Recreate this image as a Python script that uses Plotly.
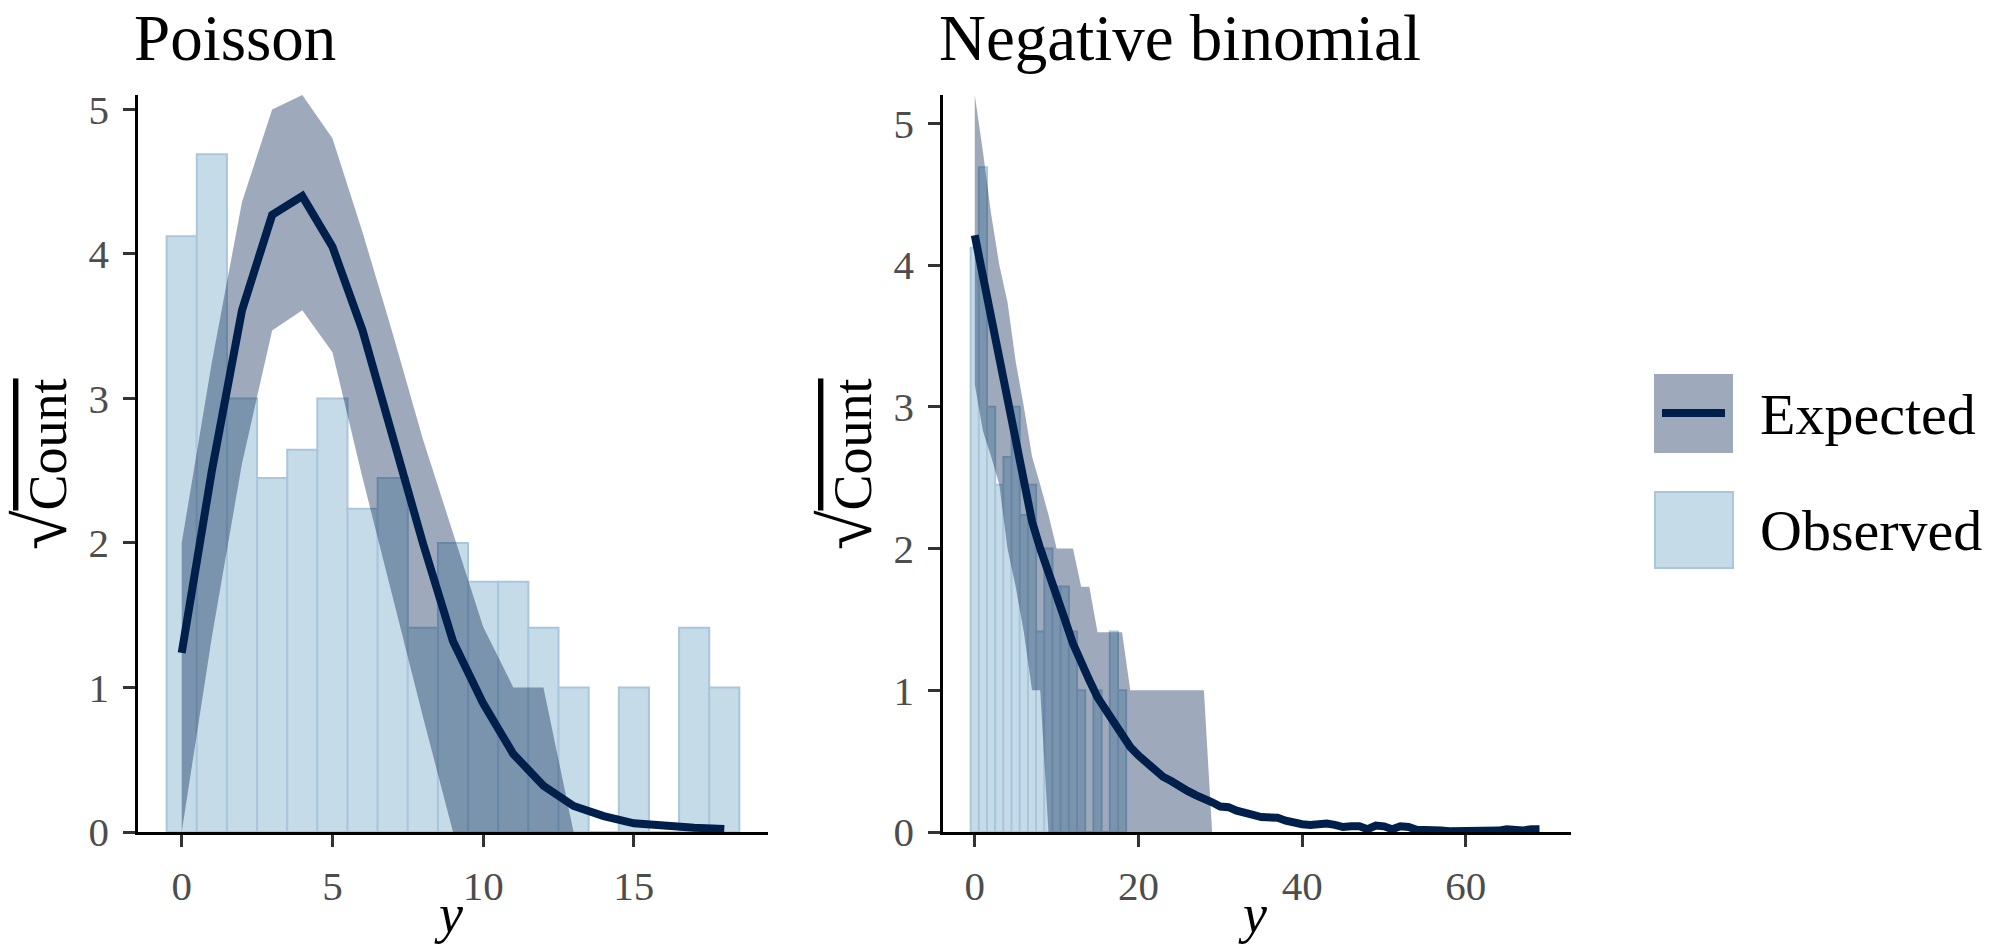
import numpy as np
import plotly.graph_objects as go

# ---------------- data ----------------
y_vals = list(range(19))
obs_counts = [17, 22, 9, 6, 7, 9, 5, 6, 2, 4, 3, 3, 2, 1, 0, 1, 0, 2, 1]

# Poisson model: sqrt expected counts and interval
pois_x = list(range(19))
pois_exp = [1.24, 2.50, 3.61, 4.27, 4.40, 4.05, 3.47, 2.71, 2.00, 1.32,
            0.89, 0.54, 0.32, 0.18, 0.11, 0.06, 0.04, 0.03, 0.02]
pois_lo = [0.00, 1.35, 2.55, 3.47, 3.61, 3.32, 2.45, 1.62, 0.80, 0.00,
           0.00, 0.00, 0.00, 0.00, 0.00, 0.00, 0.00, 0.00, 0.00]
pois_hi = [2.00, 3.25, 4.36, 5.00, 5.10, 4.80, 4.15, 3.45, 2.72, 2.07,
           1.42, 1.00, 1.00, 0.00, 0.00, 0.00, 0.00, 0.00, 0.00]

# Negative binomial model
nb_x = list(range(70))
nb_exp = [4.21, 3.92, 3.63, 3.34, 3.05, 2.76, 2.47, 2.19, 2.00, 1.82,
          1.65, 1.50, 1.33, 1.19, 1.07, 0.95, 0.86, 0.77, 0.68, 0.60,
          0.54, 0.49, 0.43, 0.39, 0.36, 0.32, 0.29, 0.26, 0.24, 0.21,
          0.18, 0.175, 0.15, 0.13, 0.12, 0.105, 0.105, 0.10, 0.08, 0.065,
          0.055, 0.05, 0.055, 0.06, 0.05, 0.035, 0.04, 0.04, 0.02, 0.045,
          0.04, 0.02, 0.04, 0.035, 0.015, 0.015, 0.02, 0.01, 0.005, 0.005,
          0.005, 0.005, 0.005, 0.005, 0.01, 0.02, 0.015, 0.01, 0.02, 0.02]
nb_lo = [3.16, 2.83, 2.65, 2.45, 2.00, 1.73, 1.41, 1.00, 1.00, 0.00,
         0, 0, 0, 0, 0, 0, 0, 0, 0, 0,
         0, 0, 0, 0, 0, 0, 0, 0, 0, 0,
         0, 0, 0, 0, 0, 0, 0, 0, 0, 0,
         0, 0, 0, 0, 0, 0, 0, 0, 0, 0,
         0, 0, 0, 0, 0, 0, 0, 0, 0, 0,
         0, 0, 0, 0, 0, 0, 0, 0, 0, 0]
nb_hi = [5.20, 4.80, 4.36, 4.00, 3.74, 3.32, 3.00, 2.65, 2.45, 2.24,
         2.00, 2.00, 2.00, 1.73, 1.73, 1.41, 1.41, 1.41, 1.41, 1.00,
         1.00, 1.00, 1.00, 1.00, 1.00, 1.00, 1.00, 1.00, 1.00, 0.00,
         0, 0, 0, 0, 0, 0, 0, 0, 0, 0,
         0, 0, 0, 0, 0, 0, 0, 0, 0, 0,
         0, 0, 0, 0, 0, 0, 0, 0, 0, 0,
         0, 0, 0, 0, 0, 0, 0, 0, 0, 0]

panel_titles = ["Poisson", "Negative binomial"]
legend_labels = ["Expected", "Observed"]
y_ticks = [0, 1, 2, 3, 4, 5]
x_ticks_left = [0, 5, 10, 15]
x_ticks_right = [0, 20, 40, 60]

# ---------------- style ----------------
W, H = 2009, 946
FONT = "Liberation Serif"
OBS_FILL = "#c6dbe8"
OBS_LINE = "#a9c6dc"
RIB_FILL = "rgba(1,31,75,0.38)"
LINE_COL = "#011f4b"


def px_x(p):
    return p / W


def px_y(p):
    return 1 - p / H


fig = go.Figure()

obs_sqrt = np.sqrt(np.array(obs_counts, dtype=float))

panels = [
    dict(xa="x", ya="y", ex=pois_x, ey=pois_exp, lo=pois_lo, hi=pois_hi),
    dict(xa="x2", ya="y2", ex=nb_x, ey=nb_exp, lo=nb_lo, hi=nb_hi),
]
for p in panels:
    fig.add_trace(go.Bar(x=y_vals, y=obs_sqrt, width=1,
                         marker=dict(color=OBS_FILL, line=dict(color=OBS_LINE, width=2)),
                         xaxis=p["xa"], yaxis=p["ya"], showlegend=False, hoverinfo="skip"))
    fig.add_trace(go.Scatter(x=list(p["ex"]) + list(p["ex"])[::-1],
                             y=list(p["hi"]) + list(p["lo"])[::-1],
                             fill="toself", fillcolor=RIB_FILL, mode="lines",
                             line=dict(width=0, color="rgba(0,0,0,0)"),
                             xaxis=p["xa"], yaxis=p["ya"], showlegend=False, hoverinfo="skip"))
    fig.add_trace(go.Scatter(x=p["ex"], y=p["ey"], mode="lines",
                             line=dict(color=LINE_COL, width=8),
                             xaxis=p["xa"], yaxis=p["ya"], showlegend=False, hoverinfo="skip"))

ax_common = dict(showline=True, linecolor="black", linewidth=2.5, ticks="outside",
                 ticklen=12, tickwidth=2.5, tickcolor="#333333",
                 tickfont=dict(family=FONT, size=41, color="#4d4d4d"),
                 showgrid=False, zeroline=False, fixedrange=True, automargin=False)

ytop = px_y(95)
ybot = px_y(832)
L = (138, 768)
R = (943, 1571)

fig.update_layout(
    template="none",
    width=W, height=H, autosize=False,
    margin=dict(l=0, r=0, t=0, b=0, pad=0),
    paper_bgcolor="white", plot_bgcolor="white",
    xaxis=dict(domain=[px_x(L[0]), px_x(L[1])], range=[-1.45, 19.45],
               tickvals=x_ticks_left, anchor="y", ticklabelstandoff=4, **ax_common),
    yaxis=dict(domain=[ybot, ytop], range=[0, 5.1], tickvals=y_ticks,
               anchor="x", ticklabelstandoff=6, **ax_common),
    xaxis2=dict(domain=[px_x(R[0]), px_x(R[1])], range=[-3.88, 72.85],
                tickvals=x_ticks_right, anchor="y2", ticklabelstandoff=4, **ax_common),
    yaxis2=dict(domain=[ybot, ytop], range=[0, 5.2], tickvals=y_ticks,
                anchor="x2", ticklabelstandoff=6, **ax_common),
    showlegend=False,
)

ann = []
# panel titles
for txt, left in zip(panel_titles, [L[0], R[0]]):
    ann.append(dict(text=txt, x=px_x(left - 6), y=1, xref="paper", yref="paper",
                    xanchor="left", yanchor="top", showarrow=False,
                    font=dict(family=FONT, size=65, color="black")))
# axis titles
for cx in [(L[0] + L[1]) / 2, (R[0] + R[1]) / 2]:
    ann.append(dict(text="<i>y</i>", x=px_x(cx - 5), y=0, xref="paper", yref="paper",
                    xanchor="center", yanchor="bottom", showarrow=False,
                    font=dict(family=FONT, size=54, color="black")))
for cx in [42, 847]:
    ann.append(dict(text="<span style=\"font-size:72px\">√</span>"
                         "<span style=\"text-decoration:overline\">Count</span>",
                    x=px_x(cx), y=px_y(464), xref="paper", yref="paper",
                    xanchor="center", yanchor="middle", textangle=-90, showarrow=False,
                    font=dict(family=FONT, size=54, color="black")))
# legend texts
for txt, cy in zip(legend_labels, [414, 530]):
    ann.append(dict(text=txt, x=px_x(1758), y=px_y(cy), xref="paper", yref="paper",
                    xanchor="left", yanchor="middle", showarrow=False,
                    font=dict(family=FONT, size=58, color="black")))
fig.update_layout(annotations=ann)

shapes = [
    dict(type="rect", xref="paper", yref="paper", x0=px_x(1654), x1=px_x(1733),
         y0=px_y(453), y1=px_y(374), fillcolor=RIB_FILL, line=dict(width=0)),
    dict(type="line", xref="paper", yref="paper", x0=px_x(1662), x1=px_x(1725),
         y0=px_y(413), y1=px_y(413), line=dict(color=LINE_COL, width=8)),
    dict(type="rect", xref="paper", yref="paper", x0=px_x(1655), x1=px_x(1733),
         y0=px_y(568), y1=px_y(492), fillcolor=OBS_FILL, line=dict(color=OBS_LINE, width=2)),
]
fig.update_layout(shapes=shapes)

fig.write_html(
    "out.html",
    config={"displayModeBar": False, "responsive": False},
    post_script=(
        "document.documentElement.style.margin='0';"
        "document.documentElement.style.overflow='hidden';"
        "document.body.style.margin='0';"
        "document.body.style.overflow='hidden';"
    ),
)
